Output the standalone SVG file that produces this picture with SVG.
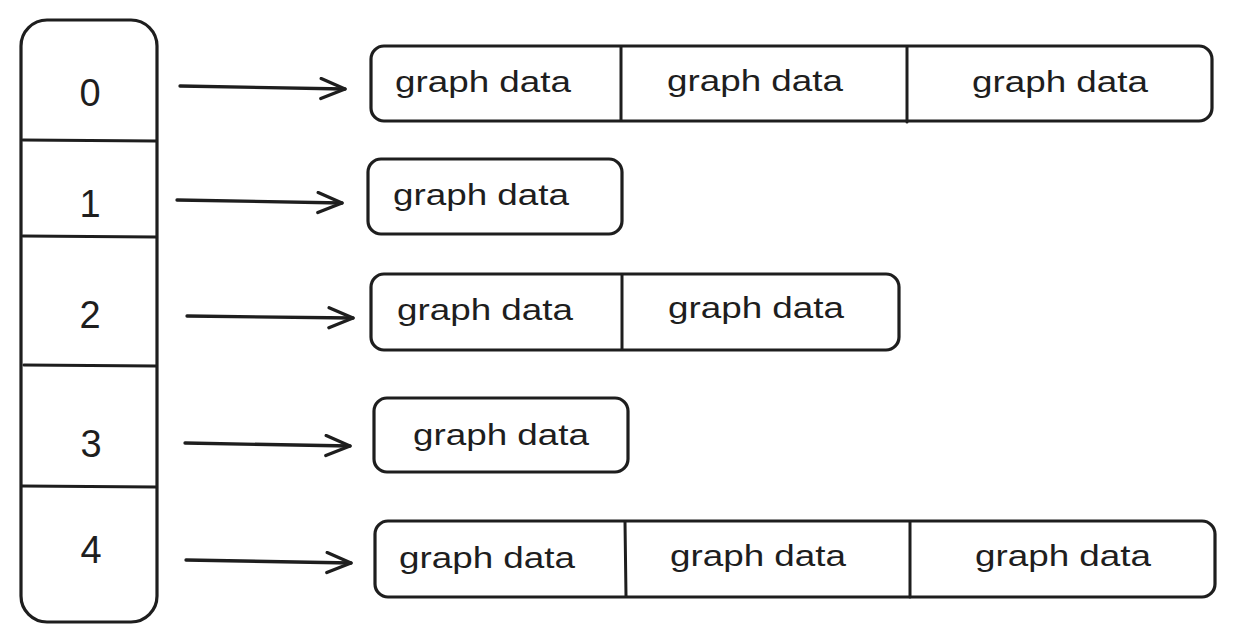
<svg xmlns="http://www.w3.org/2000/svg" width="1234" height="642" viewBox="0 0 1234 642">
<defs>
<style>
.box{fill:none;stroke:#1e1e1e;stroke-width:3.2;stroke-linecap:round;stroke-linejoin:round}
.div{stroke:#1e1e1e;stroke-width:3;stroke-linecap:round}
.lbl{font-family:"Liberation Sans",Arial,sans-serif;font-size:29px;fill:#1e1e1e;text-anchor:middle}
.num{font-family:"Liberation Sans",Arial,sans-serif;font-size:38px;fill:#1e1e1e;text-anchor:middle}
.arr{fill:none;stroke:#1e1e1e;stroke-width:3.3;stroke-linecap:round;stroke-linejoin:round}
</style>
<marker id="ah" viewBox="0 0 30 24" refX="27" refY="12" markerWidth="30" markerHeight="24" markerUnits="userSpaceOnUse" orient="auto">
<path d="M3 2 L27 12 L3 22" fill="none" stroke="#1e1e1e" stroke-width="3.3" stroke-linecap="round" stroke-linejoin="round"/>
</marker>
</defs>
<rect width="1234" height="642" fill="#ffffff"/>
<g id="array">
<rect class="box" x="21" y="20" width="136" height="602" rx="26"/>
<line class="div" x1="23" y1="140" x2="156" y2="141"/>
<line class="div" x1="23" y1="236" x2="156" y2="237"/>
<line class="div" x1="24" y1="365" x2="156" y2="366"/>
<line class="div" x1="22" y1="486" x2="156" y2="487"/>
<text class="num" x="90" y="106">0</text>
<text class="num" x="90" y="217">1</text>
<text class="num" x="90" y="328">2</text>
<text class="num" x="91" y="457">3</text>
<text class="num" x="91" y="563">4</text>
</g>
<g id="connectors">
<path class="arr" d="M180 86 L345 89" marker-end="url(#ah)"/>
<path class="arr" d="M177 200 L342 203" marker-end="url(#ah)"/>
<path class="arr" d="M187 316 L353 318" marker-end="url(#ah)"/>
<path class="arr" d="M185 443 L350 446" marker-end="url(#ah)"/>
<path class="arr" d="M186 560 L351 563" marker-end="url(#ah)"/>
</g>
<g id="list0">
<rect class="box" x="371" y="46" width="841" height="75" rx="13"/>
<line class="div" x1="621" y1="47" x2="621" y2="120"/>
<line class="div" x1="907" y1="47" x2="907" y2="122"/>
<text class="lbl" x="483" y="92" textLength="176" lengthAdjust="spacingAndGlyphs">graph data</text>
<text class="lbl" x="755" y="91" textLength="176" lengthAdjust="spacingAndGlyphs">graph data</text>
<text class="lbl" x="1060" y="92" textLength="176" lengthAdjust="spacingAndGlyphs">graph data</text>
</g>
<g id="list1">
<rect class="box" x="368" y="159" width="254" height="75" rx="13"/>
<text class="lbl" x="481" y="205" textLength="176" lengthAdjust="spacingAndGlyphs">graph data</text>
</g>
<g id="list2">
<rect class="box" x="371" y="274" width="528" height="76" rx="13"/>
<line class="div" x1="622" y1="275" x2="622" y2="349"/>
<text class="lbl" x="485" y="320" textLength="176" lengthAdjust="spacingAndGlyphs">graph data</text>
<text class="lbl" x="756" y="318" textLength="176" lengthAdjust="spacingAndGlyphs">graph data</text>
</g>
<g id="list3">
<rect class="box" x="374" y="398" width="254" height="74" rx="13"/>
<text class="lbl" x="501" y="445" textLength="176" lengthAdjust="spacingAndGlyphs">graph data</text>
</g>
<g id="list4">
<rect class="box" x="375" y="521" width="840" height="76" rx="13"/>
<line class="div" x1="625" y1="522" x2="626" y2="596"/>
<line class="div" x1="910" y1="522" x2="910" y2="597"/>
<text class="lbl" x="487" y="568" textLength="176" lengthAdjust="spacingAndGlyphs">graph data</text>
<text class="lbl" x="758" y="566" textLength="176" lengthAdjust="spacingAndGlyphs">graph data</text>
<text class="lbl" x="1063" y="566" textLength="176" lengthAdjust="spacingAndGlyphs">graph data</text>
</g>
</svg>
